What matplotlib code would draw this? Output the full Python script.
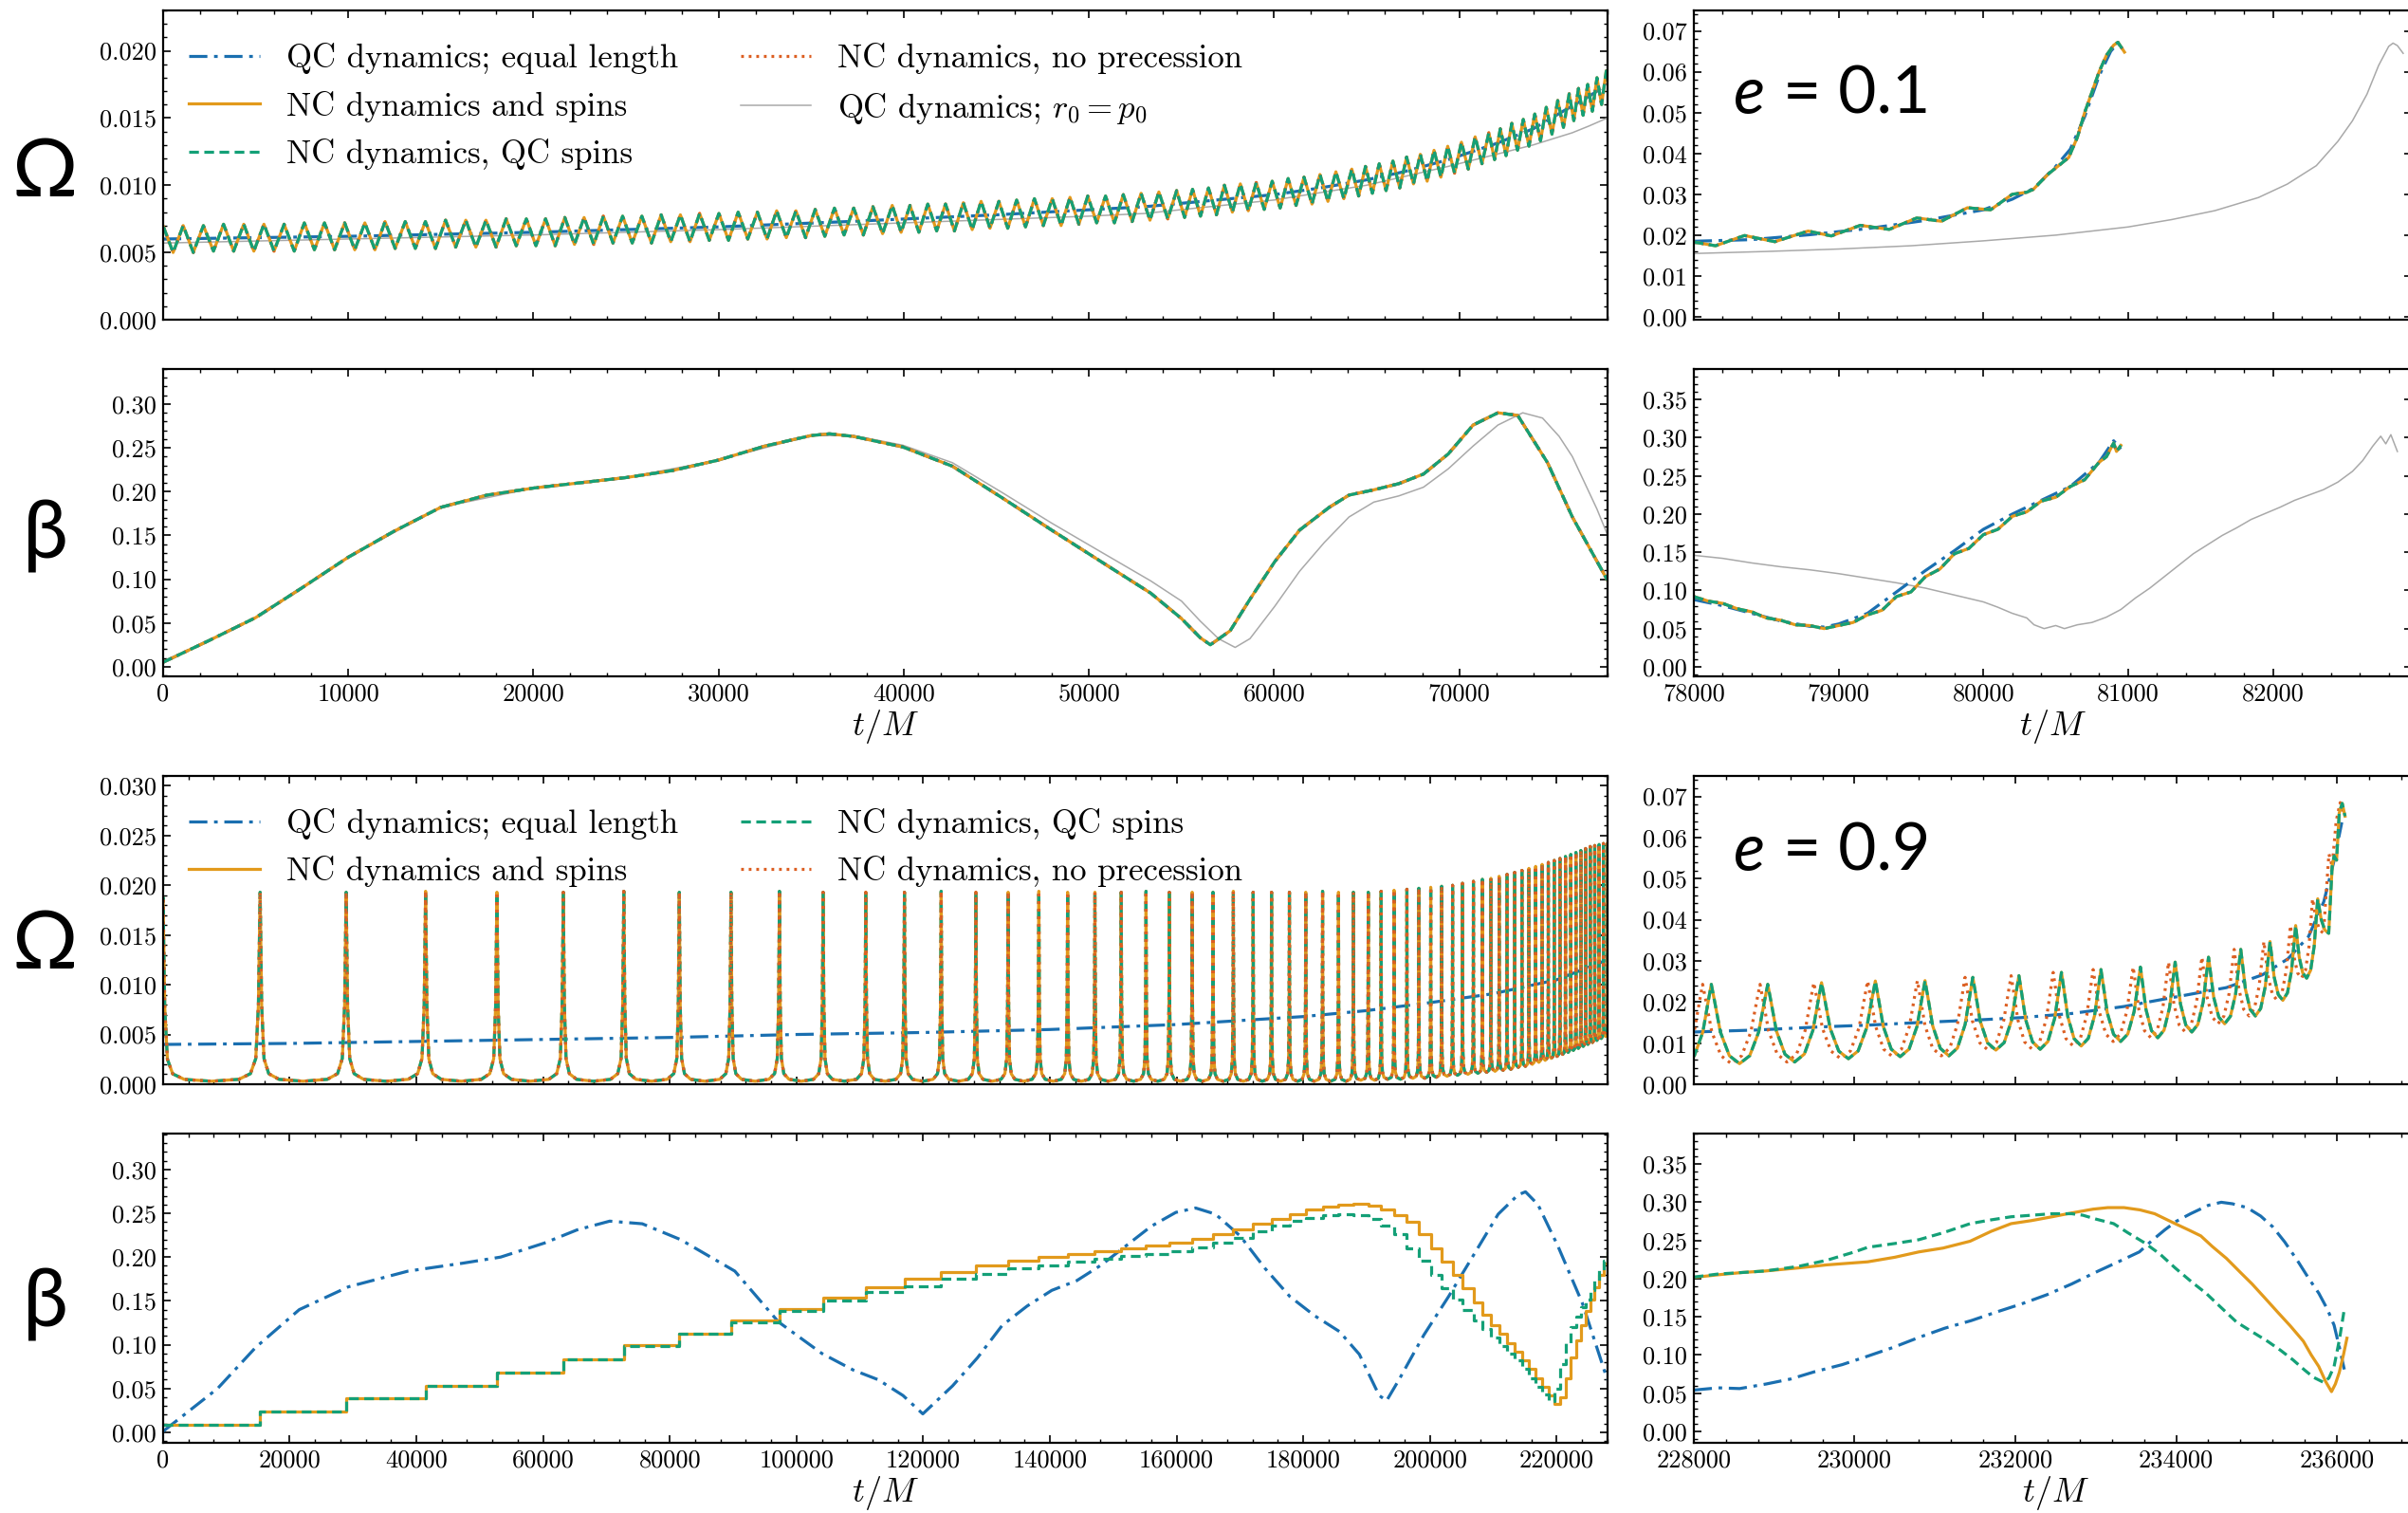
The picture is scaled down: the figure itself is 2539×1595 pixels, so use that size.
import matplotlib
matplotlib.use("Agg")
import matplotlib.pyplot as plt
from matplotlib.ticker import MultipleLocator, AutoMinorLocator, FormatStrFormatter

plt.rcParams['font.family'] = 'serif'
plt.rcParams['font.serif'] = ['cmr10']
plt.rcParams['mathtext.fontset'] = 'cm'
plt.rcParams['axes.formatter.use_mathtext'] = True
plt.rcParams['axes.unicode_minus'] = False

# ---------------- e = 0.1 : Omega, full run (peaks / troughs of the NC curves)
om01_peak_t = [0, 1090, 2180, 3270, 4360, 5450, 6540, 7630, 8720, 9810, 10900, 11990, 13080, 14170,
               15260, 16350, 17440, 18530, 19620,
               20660, 21700, 22740, 23780, 24820, 25860, 26900, 27940, 28980, 30020, 31060, 32100,
               33140, 34180, 35220, 36260, 37300, 38340, 39380,
               40340, 41300, 42260, 43220, 44180, 45140, 46100, 47060, 48020, 48980, 49940, 50900,
               51860, 52820, 53780, 54740,
               55600, 56460, 57320, 58180, 59040, 59900, 60760, 61620, 62480, 63340, 64200,
               64940, 65680, 66420, 67160, 67900, 68640, 69380, 70120, 70860, 71600,
               72220, 72840, 73460, 74080, 74700, 75320, 75940,
               76440, 76940, 77440, 77940]
om01_peak = [0.0070, 0.0070, 0.0070, 0.0071, 0.0071, 0.0071, 0.0071, 0.0072, 0.0072, 0.0072, 0.0072,
             0.0073, 0.0073, 0.0073, 0.0074, 0.0074, 0.0074, 0.0075, 0.0075,
             0.0075, 0.0076, 0.0076, 0.0077, 0.0077, 0.0077, 0.0078, 0.0078, 0.0079, 0.0079, 0.0080,
             0.0080, 0.0081, 0.0081, 0.0082, 0.0083, 0.0083, 0.0084, 0.0085,
             0.0085, 0.0086, 0.0086, 0.0087, 0.0088, 0.0088, 0.0089, 0.0090, 0.0090, 0.0091, 0.0092,
             0.0092, 0.0093, 0.0094, 0.0095, 0.0096,
             0.0097, 0.0098, 0.0100, 0.0101, 0.0102, 0.0103, 0.0105, 0.0106, 0.0108, 0.0110, 0.0112,
             0.0114, 0.0116, 0.0118, 0.0121, 0.0123, 0.0126, 0.0129, 0.0132, 0.0136, 0.0139,
             0.0142, 0.0146, 0.0149, 0.0153, 0.0158, 0.0163, 0.0168,
             0.0172, 0.0175, 0.0180, 0.0185]
om01_trough = [0.0050,
               0.0050, 0.0050, 0.0051, 0.0051, 0.0051, 0.0051, 0.0051, 0.0052, 0.0052, 0.0052, 0.0052,
               0.0053, 0.0053, 0.0053, 0.0054, 0.0054, 0.0054, 0.0055, 0.0055,
               0.0055, 0.0056, 0.0056, 0.0057, 0.0057, 0.0057, 0.0058, 0.0058, 0.0059, 0.0059, 0.0060,
               0.0060, 0.0061, 0.0061, 0.0062, 0.0063, 0.0063, 0.0064, 0.0065,
               0.0065, 0.0066, 0.0066, 0.0067, 0.0068, 0.0068, 0.0069, 0.0070, 0.0070, 0.0071, 0.0072,
               0.0072, 0.0073, 0.0074, 0.0075, 0.0076,
               0.0077, 0.0078, 0.0080, 0.0081, 0.0082, 0.0083, 0.0085, 0.0086, 0.0088, 0.0090, 0.0092,
               0.0094, 0.0096, 0.0098, 0.0101, 0.0103, 0.0106, 0.0109, 0.0112, 0.0116, 0.0119,
               0.0122, 0.0126, 0.0129, 0.0133, 0.0138, 0.0143, 0.0148,
               0.0152, 0.0155, 0.0160, 0.0165]
om01_qc_t = [0, 10000, 20000, 30000, 37000, 45000, 53000, 60000, 62500, 65000, 67000, 69400, 72000,
             74000, 76100, 77000, 78000]
om01_qc = [0.0060, 0.0062, 0.0065, 0.0069, 0.0073, 0.0078, 0.0084, 0.0093, 0.0098, 0.0104, 0.0110,
           0.0119, 0.0131, 0.0142, 0.0159, 0.0166, 0.0175]
om01_r0_t = [0, 10000, 20000, 30000, 40000, 50000, 53000, 60000, 65000, 69400, 72000, 74000, 76100,
             77000, 78000]
om01_r0 = [0.0057, 0.0060, 0.0063, 0.0067, 0.0072, 0.0077, 0.0079, 0.0089, 0.0100, 0.0114, 0.0123,
           0.0130, 0.0139, 0.0144, 0.0150]

# ---------------- e = 0.1 : beta, full run
beta01_t = [0, 2500, 5000, 7500, 10000, 12500, 15000, 17500, 20000, 22500, 25000, 27500, 30000,
            32500, 35000, 36000, 37300, 39950, 42630, 45310, 47990, 50660, 53340, 55000, 56020,
            56560, 57630, 58700, 60040, 61380, 62980, 64050, 65390, 66730, 68070, 69410, 70750,
            72090, 73160, 74770, 76110, 78000]
beta01_nc = [0.005, 0.030, 0.056, 0.090, 0.125, 0.155, 0.182, 0.196, 0.204, 0.210, 0.216, 0.224,
             0.236, 0.252, 0.264, 0.266, 0.263, 0.251, 0.229, 0.193, 0.156, 0.120, 0.084, 0.055,
             0.033, 0.025, 0.041, 0.077, 0.120, 0.156, 0.182, 0.196, 0.202, 0.209, 0.220, 0.243,
             0.276, 0.290, 0.287, 0.233, 0.171, 0.099]
beta01_r0_t = [0, 5000, 10000, 15000, 20000, 25000, 30000, 35000, 37300, 39950, 42630, 45310, 47990,
               50660, 53340, 55000, 56020, 57000, 57900, 58700, 60040, 61380, 62720, 64050, 65390,
               66730, 68070, 69410, 70750, 72090, 73430, 74500, 75400, 76110, 77440, 78000]
beta01_r0 = [0.005, 0.056, 0.125, 0.182, 0.204, 0.216, 0.236, 0.264, 0.264, 0.253, 0.233, 0.199,
             0.164, 0.131, 0.098, 0.075, 0.052, 0.032, 0.022, 0.032, 0.069, 0.109, 0.142, 0.171,
             0.188, 0.195, 0.205, 0.226, 0.252, 0.276, 0.290, 0.284, 0.263, 0.240, 0.180, 0.151]

# ---------------- e = 0.1 : zoom on the merger
om01z_t = [78000, 78150, 78350, 78560, 78790, 78950, 79150, 79350, 79540, 79710, 79890, 80050, 80200,
           80300, 80345, 80450, 80520, 80590, 80650, 80700, 80750, 80800, 80850, 80900, 80930, 80975]
om01z_nc = [0.0183, 0.0174, 0.0199, 0.0184, 0.0210, 0.0198, 0.0224, 0.0214, 0.0242, 0.0234, 0.0267,
            0.0262, 0.0300, 0.0305, 0.0312, 0.0350, 0.0370, 0.0390, 0.0440, 0.0500, 0.0550, 0.0600,
            0.0640, 0.0665, 0.0672, 0.0648]
om01z_qc_t = [78000, 78400, 78800, 79200, 79600, 80000, 80200, 80350, 80500, 80600, 80700, 80800,
              80880, 80930, 80970]
om01z_qc = [0.0185, 0.0189, 0.0201, 0.0216, 0.0236, 0.0262, 0.0288, 0.0315, 0.0368, 0.0410, 0.0490,
            0.0590, 0.0650, 0.0670, 0.0652]
om01z_r0_t = [78000, 78500, 79000, 79500, 80000, 80500, 81000, 81300, 81600, 81900, 82100, 82300,
              82450, 82550, 82650, 82730, 82800, 82830, 82860, 82900]
om01z_r0 = [0.0155, 0.0160, 0.0166, 0.0174, 0.0186, 0.0200, 0.0220, 0.0238, 0.0260, 0.0292, 0.0325,
            0.0370, 0.0430, 0.0480, 0.0545, 0.0615, 0.0662, 0.0670, 0.0664, 0.0645]

beta01z_t = [78000, 78100, 78200, 78300, 78400, 78500, 78600, 78700, 78800, 78900, 79000, 79100,
             79200, 79300, 79400, 79500, 79600, 79700, 79800, 79900, 80000, 80100, 80200, 80300,
             80400, 80500, 80600, 80700, 80800, 80850, 80900, 80920, 80950]
beta01z_nc = [0.092, 0.086, 0.083, 0.076, 0.072, 0.064, 0.061, 0.055, 0.054, 0.050, 0.054, 0.058,
              0.068, 0.074, 0.092, 0.098, 0.118, 0.128, 0.148, 0.155, 0.173, 0.180, 0.197, 0.203,
              0.217, 0.222, 0.236, 0.245, 0.268, 0.275, 0.293, 0.282, 0.290]
beta01z_qc_t = [78000, 78200, 78400, 78600, 78800, 78900, 79000, 79200, 79400, 79600, 79800, 80000,
                80200, 80400, 80600, 80800, 80900, 80950]
beta01z_qc = [0.088, 0.080, 0.070, 0.060, 0.053, 0.052, 0.056, 0.070, 0.098, 0.126, 0.152, 0.180,
              0.200, 0.218, 0.236, 0.268, 0.296, 0.285]
beta01z_r0_t = [78000, 78200, 78400, 78600, 78800, 79000, 79200, 79400, 79600, 79800, 80000, 80100,
                80200, 80300, 80350, 80420, 80500, 80560, 80650, 80750, 80850, 80950, 81050, 81150,
                81250, 81350, 81450, 81550, 81650, 81750, 81850, 81950, 82050, 82150, 82250, 82350,
                82450, 82550, 82620, 82690, 82745, 82780, 82815, 82860]
beta01z_r0 = [0.146, 0.142, 0.136, 0.131, 0.127, 0.122, 0.116, 0.110, 0.103, 0.094, 0.085, 0.078,
              0.070, 0.064, 0.055, 0.050, 0.054, 0.050, 0.055, 0.058, 0.065, 0.075, 0.090, 0.103,
              0.118, 0.133, 0.148, 0.160, 0.172, 0.182, 0.193, 0.201, 0.209, 0.218, 0.225, 0.232,
              0.242, 0.256, 0.270, 0.289, 0.302, 0.292, 0.304, 0.282]

# ---------------- e = 0.9 : periastron passages (spikes of Omega, steps of beta)
spk09_t = [0, 15330, 28910, 41450, 52710, 63190, 72740, 81500, 89660, 97310, 104200,
           110940, 117040, 122840, 128320, 133410, 138260, 142800, 147110, 151260, 155180, 158860,
           162460, 165750, 168960, 172090, 174990, 177810, 180390, 183050, 185560, 187910, 190260,
           192290, 194330, 196360, 198240, 200120, 201840, 203570, 205130, 206860, 208270,
           209620, 210920, 212170, 213370, 214520, 215620, 216680, 217700, 218680, 219620, 220520,
           221390, 222230, 223040, 223820, 224570, 225300, 226010, 226700, 227380, 228060]
spk09_peak = [0.0188, 0.0193, 0.0193, 0.0194, 0.0193, 0.0193, 0.0194, 0.0193, 0.0193, 0.0194, 0.0193,
              0.0193, 0.0193, 0.0194, 0.0193, 0.0193, 0.0194, 0.0193, 0.0193, 0.0193, 0.0194, 0.0193,
              0.0193, 0.0193, 0.0194, 0.0193, 0.0193, 0.0193, 0.0193, 0.0194, 0.0193, 0.0193, 0.0193,
              0.0194, 0.0195, 0.0196, 0.0197, 0.0198, 0.0199, 0.0200, 0.0202, 0.0204, 0.0206,
              0.0207, 0.0209, 0.0211, 0.0213, 0.0215, 0.0217, 0.0219, 0.0221, 0.0223, 0.0225, 0.0227,
              0.0229, 0.0231, 0.0233, 0.0235, 0.0237, 0.0239, 0.0240, 0.0241, 0.0242, 0.0243]
spk09_trough = [0.0003,
                0.0003, 0.0003, 0.0003, 0.0003, 0.0003, 0.0003, 0.0003, 0.0003, 0.0003, 0.0003, 0.0003,
                0.0003, 0.0003, 0.0003, 0.0003, 0.0003, 0.0003, 0.0003, 0.0003, 0.0003, 0.0003, 0.0003,
                0.0003, 0.0003, 0.0003, 0.0003, 0.0003, 0.0003, 0.0003, 0.0003, 0.0003,
                0.0004, 0.0004, 0.0005, 0.0005, 0.0006, 0.0006, 0.0007, 0.0008, 0.0009, 0.0010, 0.0011,
                0.0012, 0.0013, 0.0014, 0.0015, 0.0017, 0.0018, 0.0020, 0.0022, 0.0024, 0.0026, 0.0028,
                0.0030, 0.0032, 0.0034, 0.0036, 0.0038, 0.0040, 0.0042, 0.0044, 0.0046, 0.0048, 0.0050]
om09_qc_t = [0, 20000, 40000, 60000, 80000, 100000, 120000, 140000, 160000, 180000, 190000, 200000,
             210000, 220000, 228000]
om09_qc = [0.0040, 0.0041, 0.0043, 0.0045, 0.0047, 0.0050, 0.0052, 0.0055, 0.0060, 0.0068, 0.0074,
           0.0082, 0.0091, 0.0105, 0.0125]

# beta level after each periastron passage
beta09_nc = [0.009, 0.024, 0.039, 0.053, 0.068, 0.083, 0.099, 0.113, 0.128, 0.141, 0.154,
             0.166, 0.175, 0.183, 0.190, 0.196, 0.200, 0.204, 0.207, 0.210, 0.213, 0.216,
             0.221, 0.226, 0.232, 0.238, 0.244, 0.249, 0.254, 0.258, 0.260, 0.261, 0.259,
             0.254, 0.248, 0.240, 0.226, 0.210, 0.195, 0.180, 0.164, 0.148, 0.134,
             0.122, 0.112, 0.102, 0.092, 0.082, 0.072, 0.062, 0.052, 0.042, 0.032, 0.040,
             0.062, 0.085, 0.105, 0.122, 0.138, 0.152, 0.166, 0.180, 0.193, 0.205]
beta09_qcs = [0.009, 0.024, 0.039, 0.053, 0.068, 0.083, 0.098, 0.112, 0.126, 0.138, 0.150,
              0.160, 0.167, 0.175, 0.181, 0.187, 0.191, 0.195, 0.198, 0.201, 0.204, 0.207,
              0.211, 0.216, 0.222, 0.229, 0.236, 0.241, 0.245, 0.248, 0.249, 0.248, 0.244,
              0.236, 0.226, 0.210, 0.196, 0.180, 0.165, 0.152, 0.140, 0.128, 0.118,
              0.108, 0.098, 0.090, 0.082, 0.072, 0.062, 0.052, 0.043, 0.036, 0.050, 0.078,
              0.102, 0.120, 0.132, 0.143, 0.152, 0.162, 0.173, 0.185, 0.196, 0.207]
beta09_qc_t = [0, 8620, 14640, 21510, 29250, 38700, 47300, 53300, 60200, 65350, 70510, 75660, 81680,
               90260, 97150, 104000, 108980, 112900, 116810, 119940, 124640, 128560, 132470, 136390,
               140300, 144220, 148130, 152050, 155960, 159880, 163010, 166140, 170050, 173970,
               177880, 181800, 185710, 188850, 191980, 193150, 195110, 199030, 202940, 206860,
               210770, 213900, 215080, 217040, 220170, 224080, 228000]
beta09_qc = [0.001, 0.050, 0.097, 0.140, 0.166, 0.184, 0.193, 0.200, 0.216, 0.231, 0.241, 0.238,
             0.220, 0.184, 0.126, 0.090, 0.071, 0.060, 0.042, 0.021, 0.053, 0.085, 0.122, 0.144,
             0.162, 0.173, 0.191, 0.213, 0.235, 0.251, 0.256, 0.249, 0.224, 0.187, 0.155, 0.133,
             0.115, 0.089, 0.042, 0.036, 0.060, 0.111, 0.155, 0.202, 0.249, 0.271, 0.2745, 0.260,
             0.213, 0.147, 0.060]

# ---------------- e = 0.9 : zoom on the merger
om09z_t = [227560, 228218, 228920, 229589, 230258, 230876, 231470, 232044, 232573, 233064, 233555,
           233987, 234402, 234803, 235167, 235486, 235760]
om09z_np_t = [227450, 228110, 228824, 229493, 230163, 230781, 231374, 231947, 232470, 232967, 233465,
              233905, 234320, 234721, 235091, 235422, 235696]
om09z_peak = [0.0242, 0.0243, 0.0243, 0.0247, 0.0251, 0.0252, 0.0260, 0.0264, 0.0272, 0.0279, 0.0285,
              0.0297, 0.0309, 0.0328, 0.0347, 0.0386, 0.0451]
om09z_trough = [0.0048, 0.0050, 0.0050, 0.0054, 0.0062, 0.0067, 0.0069, 0.0083, 0.0085, 0.0093,
                0.0104, 0.0113, 0.0127, 0.0147, 0.0166, 0.0204, 0.0258, 0.0367]
om09z_tail_t = [235940, 235964, 235995, 236028, 236065, 236100]
om09z_tail = [0.0530, 0.0555, 0.0545, 0.0660, 0.0683, 0.0652]
om09z_np_tail_t = [235860, 235900, 235940, 235990, 236040, 236080]
om09z_np_tail = [0.0450, 0.0560, 0.0530, 0.0640, 0.0685, 0.0660]
om09z_qc_t = [228000, 228800, 229525, 230200, 230800, 231500, 232075, 232700, 233350, 233987, 234625,
              235072, 235390, 235645, 235836, 235964, 236060]
om09z_qc = [0.0127, 0.0132, 0.0139, 0.0144, 0.0150, 0.0156, 0.0162, 0.0172, 0.0189, 0.0212, 0.0235,
            0.0266, 0.0305, 0.0359, 0.0444, 0.0544, 0.0637]

beta09z_nc_t = [228000, 228300, 228600, 228890, 229300, 229653, 230163, 230500, 230800, 231100,
                231437, 231700, 231947, 232200, 232457, 232700, 232967, 233150, 233350, 233550,
                233732, 233987, 234150, 234306, 234450, 234625, 234800, 234944, 235100, 235263,
                235420, 235582, 235680, 235773, 235860, 235932, 235980, 236028, 236080, 236124]
beta09z_nc = [0.2016, 0.205, 0.208, 0.210, 0.214, 0.218, 0.222, 0.228, 0.235, 0.240, 0.249, 0.262,
              0.272, 0.276, 0.281, 0.286, 0.291, 0.293, 0.293, 0.290, 0.285, 0.272, 0.264, 0.256,
              0.242, 0.2265, 0.208, 0.193, 0.175, 0.156, 0.138, 0.118, 0.100, 0.085, 0.065, 0.052,
              0.062, 0.077, 0.100, 0.122]
beta09z_qcs_t = [228000, 228300, 228600, 228890, 229300, 229653, 230000, 230163, 230500, 230800,
                 231100, 231437, 231700, 231947, 232200, 232457, 232700, 232840, 233000, 233222,
                 233400, 233605, 233800, 233987, 234200, 234370, 234550, 234752, 234950, 235136,
                 235300, 235454, 235600, 235709, 235836, 235900, 235964, 236030, 236091]
beta09z_qcs = [0.202, 0.206, 0.208, 0.210, 0.216, 0.224, 0.235, 0.241, 0.246, 0.251, 0.260, 0.272,
               0.277, 0.281, 0.283, 0.285, 0.285, 0.283, 0.278, 0.272, 0.260, 0.247, 0.232, 0.214,
               0.195, 0.181, 0.163, 0.143, 0.130, 0.118, 0.106, 0.0935, 0.080, 0.0707, 0.064, 0.070,
               0.085, 0.120, 0.160]
beta09z_qc_t = [228000, 228300, 228570, 228900, 229207, 229500, 229844, 230150, 230482, 230800,
                231119, 231450, 231757, 232080, 232394, 232700, 233032, 233300, 233542, 233700,
                233860, 234000, 234179, 234400, 234561, 234700, 234881, 235050, 235199, 235350,
                235518, 235650, 235773, 235880, 235964, 236030, 236091]
beta09z_qc = [0.054, 0.057, 0.056, 0.062, 0.0686, 0.078, 0.0873, 0.098, 0.110, 0.123, 0.135, 0.145,
              0.156, 0.167, 0.179, 0.193, 0.210, 0.223, 0.235, 0.250, 0.264, 0.275, 0.285, 0.296,
              0.300, 0.298, 0.293, 0.282, 0.268, 0.248, 0.222, 0.200, 0.181, 0.160, 0.139, 0.110,
              0.081]

# shape of one orbit around its peak (fraction of the orbit gap, fraction of peak height)
tri_f, tri_v = [-0.5, 0, 0.5], [0, 1, 0]
spike_f = [-0.5, -0.22, -0.1, -0.045, -0.018, 0, 0.018, 0.045, 0.1, 0.22, 0.5]
spike_v = [0, 0.01, 0.04, 0.12, 0.4, 1, 0.4, 0.12, 0.04, 0.01, 0]
cusp_f = [-0.5, -0.32, -0.16, -0.06, 0, 0.06, 0.16, 0.32, 0.5]
cusp_v = [0, 0.1, 0.4, 0.78, 1, 0.78, 0.4, 0.1, 0]

labels = ['QC dynamics; equal length', 'NC dynamics and spins', 'NC dynamics, QC spins',
          'NC dynamics, no precession', 'QC dynamics; $r_0 = p_0$']


def orbit_curve(tp, peak, trough, fs, vs):
    xs, ys = [], []
    n = len(tp)
    for i in range(n):
        gl = tp[i] - tp[i - 1] if i > 0 else tp[1] - tp[0]
        gr = tp[i + 1] - tp[i] if i < n - 1 else gl
        for f, v in zip(fs, vs):
            base = trough[i] if f <= 0 else trough[i + 1]
            xs.append(tp[i] + f * (gl if f <= 0 else gr))
            ys.append(base + v * (peak[i] - base))
    return xs, ys


C_QC, C_NC, C_QCS, C_NP, C_R0 = '#1a6fb0', '#e29a1c', '#14a077', '#dc5f22', '#a9a9a9'
LW = 2.3
st_qc = dict(color=C_QC, lw=LW, ls=(0, (6, 2.2, 1.2, 2.2)))
st_nc = dict(color=C_NC, lw=LW, ls='-')
st_qcs = dict(color=C_QCS, lw=LW, ls=(0, (3.2, 1.8)))
st_np = dict(color=C_NP, lw=LW, ls=(0, (0.9, 1.6)))
st_r0 = dict(color=C_R0, lw=1.1, ls='-')


def style(ax, xlim, ylim, xstep, ystep, yfmt, xlab):
    ax.set_xlim(*xlim)
    ax.set_ylim(*ylim)
    ax.xaxis.set_major_locator(MultipleLocator(xstep))
    ax.yaxis.set_major_locator(MultipleLocator(ystep))
    ax.xaxis.set_minor_locator(AutoMinorLocator(5))
    ax.yaxis.set_minor_locator(AutoMinorLocator(5))
    ax.xaxis.set_major_formatter(FormatStrFormatter('%d'))
    ax.yaxis.set_major_formatter(FormatStrFormatter(yfmt))
    ax.tick_params(which='both', direction='in', top=True, right=True, labelsize=19)
    ax.tick_params(which='major', length=6, width=1.2, pad=5)
    ax.tick_params(which='minor', length=3, width=1.0)
    for s in ax.spines.values():
        s.set_linewidth(1.6)
    if xlab:
        ax.set_xlabel('$t/M$', fontsize=26, labelpad=2)
    else:
        ax.tick_params(labelbottom=False)


fig = plt.figure(figsize=(25.39, 15.95), dpi=100)
XL, WL = 0.0677, 0.5998
XR = 0.7034
rows = [(0.7887, 0.2044), (0.5530, 0.2031), (0.2834, 0.2038), (0.0464, 0.2044)]

# ---- row 1: Omega, e = 0.1
ax = fig.add_axes([XL, rows[0][0], WL, rows[0][1]])
x, y = orbit_curve(om01_peak_t, om01_peak, om01_trough, tri_f, tri_v)
ax.plot(om01_r0_t, om01_r0, **st_r0)
h_qc, = ax.plot(om01_qc_t, om01_qc, **st_qc)
h_nc, = ax.plot(x, y, **st_nc)
h_np, = ax.plot(x, y, **st_np)
h_qcs, = ax.plot(x, y, **st_qcs)
h_r0, = ax.plot([], [], **st_r0)
style(ax, (0, 78000), (0, 0.023), 10000, 0.005, '%.3f', False)
leg_kw = dict(loc='upper left', bbox_to_anchor=(0.018, 0.895), ncol=2, frameon=False, fontsize=25,
              handlelength=2.15, handletextpad=0.8, columnspacing=1.9, labelspacing=0.5,
              borderaxespad=0, borderpad=0)
ax.legend([h_qc, h_nc, h_qcs, h_np, h_r0], labels, **leg_kw)

ax = fig.add_axes([XR, rows[0][0], 0.2982, rows[0][1]])
ax.plot(om01z_r0_t, om01z_r0, **st_r0)
ax.plot(om01z_qc_t, om01z_qc, **st_qc)
ax.plot(om01z_t, om01z_nc, **st_nc)
ax.plot(om01z_t, om01z_nc, **st_np)
ax.plot(om01z_t, om01z_nc, **st_qcs)
style(ax, (78000, 82960), (-0.0007, 0.075), 1000, 0.01, '%.2f', False)

# ---- row 2: beta, e = 0.1
ax = fig.add_axes([XL, rows[1][0], WL, rows[1][1]])
ax.plot(beta01_r0_t, beta01_r0, **st_r0)
ax.plot(beta01_t, beta01_nc, **st_qc)
ax.plot(beta01_t, beta01_nc, **st_nc)
ax.plot(beta01_t, beta01_nc, **st_np)
ax.plot(beta01_t, beta01_nc, **st_qcs)
style(ax, (0, 78000), (-0.011, 0.34), 10000, 0.05, '%.2f', True)

ax = fig.add_axes([XR, rows[1][0], 0.2982, rows[1][1]])
ax.plot(beta01z_r0_t, beta01z_r0, **st_r0)
ax.plot(beta01z_qc_t, beta01z_qc, **st_qc)
ax.plot(beta01z_t, beta01z_nc, **st_nc)
ax.plot(beta01z_t, beta01z_nc, **st_np)
ax.plot(beta01z_t, beta01z_nc, **st_qcs)
style(ax, (78000, 82960), (-0.0125, 0.39), 1000, 0.05, '%.2f', True)

# ---- row 3: Omega, e = 0.9
ax = fig.add_axes([XL, rows[2][0], WL, rows[2][1]])
x, y = orbit_curve(spk09_t, spk09_peak, spk09_trough, spike_f, spike_v)
h_qc, = ax.plot(om09_qc_t, om09_qc, **st_qc)
h_nc, = ax.plot(x, y, **st_nc)
h_qcs, = ax.plot(x, y, **st_qcs)
h_np, = ax.plot(x, y, **st_np)
style(ax, (0, 228000), (0, 0.031), 20000, 0.005, '%.3f', False)
ax.legend([h_qc, h_nc, h_qcs, h_np], labels[:4], **leg_kw)

ax = fig.add_axes([XR, rows[2][0], 0.3005, rows[2][1]])
x, y = orbit_curve(om09z_t, om09z_peak, om09z_trough, cusp_f, cusp_v)
xr, yr = orbit_curve(om09z_np_t, om09z_peak, om09z_trough, cusp_f, cusp_v)
ax.plot(om09z_qc_t, om09z_qc, **st_qc)
ax.plot(xr + om09z_np_tail_t, yr + om09z_np_tail, **st_np)
ax.plot(x + om09z_tail_t, y + om09z_tail, **st_nc)
ax.plot(x + om09z_tail_t, y + om09z_tail, **st_qcs)
style(ax, (228000, 237000), (0, 0.075), 2000, 0.01, '%.2f', False)

# ---- row 4: beta, e = 0.9
ax = fig.add_axes([XL, rows[3][0], WL, rows[3][1]])
ax.plot(beta09_qc_t, beta09_qc, **st_qc)
ax.plot(spk09_t, beta09_nc, drawstyle='steps-post', **st_nc)
ax.plot(spk09_t, beta09_qcs, drawstyle='steps-post', **st_qcs)
style(ax, (0, 228000), (-0.012, 0.341), 20000, 0.05, '%.2f', True)

ax = fig.add_axes([XR, rows[3][0], 0.3005, rows[3][1]])
ax.plot(beta09z_qc_t, beta09z_qc, **st_qc)
ax.plot(beta09z_nc_t, beta09z_nc, **st_nc)
ax.plot(beta09z_qcs_t, beta09z_qcs, **st_qcs)
style(ax, (228000, 237000), (-0.015, 0.39), 2000, 0.05, '%.2f', True)

# ---- big row labels and eccentricity tags
sans = ['Lato', 'Noto Sans', 'DejaVu Sans']
for yy, s in [(0.8853, 'Ω'), (0.6458, 'β'), (0.3749, 'Ω'), (0.1379, 'β')]:
    fig.text(0.0188, yy, s, fontsize=62, family=sans, ha='center', va='center')
for yy, s in [(0.9248, '= 0.1'), (0.4245, '= 0.9')]:
    fig.text(0.7200, yy, 'e', fontsize=50, family=sans, style='italic', va='baseline')
    fig.text(0.7405, yy, s, fontsize=50, family=sans, va='baseline')

fig.savefig('out.png', dpi=100)
